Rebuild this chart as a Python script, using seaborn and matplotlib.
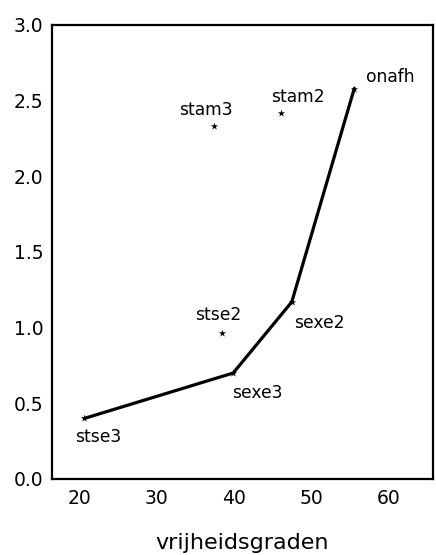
#!/usr/bin/env python3
"""Vrijheidsgraden vs. criterium: modellen met pad door de beste fits."""

import matplotlib
matplotlib.use("Agg")
import matplotlib.pyplot as plt
import pandas as pd
import seaborn as sns

# model labels and their (vrijheidsgraden, waarde)
MODELS = ["stse3", "sexe3", "sexe2", "onafh", "stam3", "stam2", "stse2"]
DF_VALUES = [20.6, 39.9, 47.5, 55.6, 37.4, 46.1, 38.4]
Y_VALUES = [0.40, 0.70, 1.17, 2.58, 2.33, 2.42, 0.965]

# models joined by the line, in order
PATH = ["stse3", "sexe3", "sexe2", "onafh"]

X_TICKS = [20, 30, 40, 50, 60]
Y_TICKS = [0.0, 0.5, 1.0, 1.5, 2.0, 2.5, 3.0]

# label placement relative to the point, in pixels
LABEL_OFFSETS = {
    "stse3": (14, -19),
    "sexe3": (24, -20),
    "sexe2": (28, -21),
    "onafh": (36, 12),
    "stam3": (-8, 16),
    "stam2": (17, 16),
    "stse2": (-3, 18),
}


def main() -> None:
    sns.set_theme(style="white")
    plt.rcParams["font.family"] = ["DejaVu Sans"]

    df = pd.DataFrame({"model": MODELS, "df": DF_VALUES, "y": Y_VALUES})
    path_df = df.set_index("model").loc[PATH].reset_index()

    fig = plt.figure(figsize=(4.36, 5.55), dpi=100)
    ax = fig.add_axes([0.119, 0.137, 0.874, 0.818])

    sns.lineplot(data=path_df, x="df", y="y", sort=False, color="black",
                 linewidth=2.3, ax=ax)
    sns.scatterplot(data=df, x="df", y="y", marker="*", color="black",
                    s=30, linewidth=0, ax=ax)

    for _, row in df.iterrows():
        ax.annotate(row["model"], (row["df"], row["y"]),
                    xytext=LABEL_OFFSETS[row["model"]],
                    textcoords="offset pixels",
                    ha="center", va="center", fontsize=12.3, color="black")

    ax.set_xlim(16.4, 65.8)
    ax.set_ylim(0.0, 3.0)
    ax.set_xticks(X_TICKS)
    ax.set_yticks(Y_TICKS)
    ax.set_yticklabels([f"{v:.1f}" for v in Y_TICKS])
    ax.tick_params(axis="both", length=0, labelsize=13.5, colors="black")
    ax.tick_params(axis="y", pad=6)
    ax.tick_params(axis="x", pad=7)

    ax.set_xlabel("vrijheidsgraden", fontsize=16, labelpad=18, color="black")
    ax.set_ylabel("")

    for side in ["left", "right", "top", "bottom"]:
        ax.spines[side].set_visible(True)
        ax.spines[side].set_color("black")
        ax.spines[side].set_linewidth(1.6)

    fig.savefig("out.png", dpi=100)
    plt.close(fig)


if __name__ == "__main__":
    main()
